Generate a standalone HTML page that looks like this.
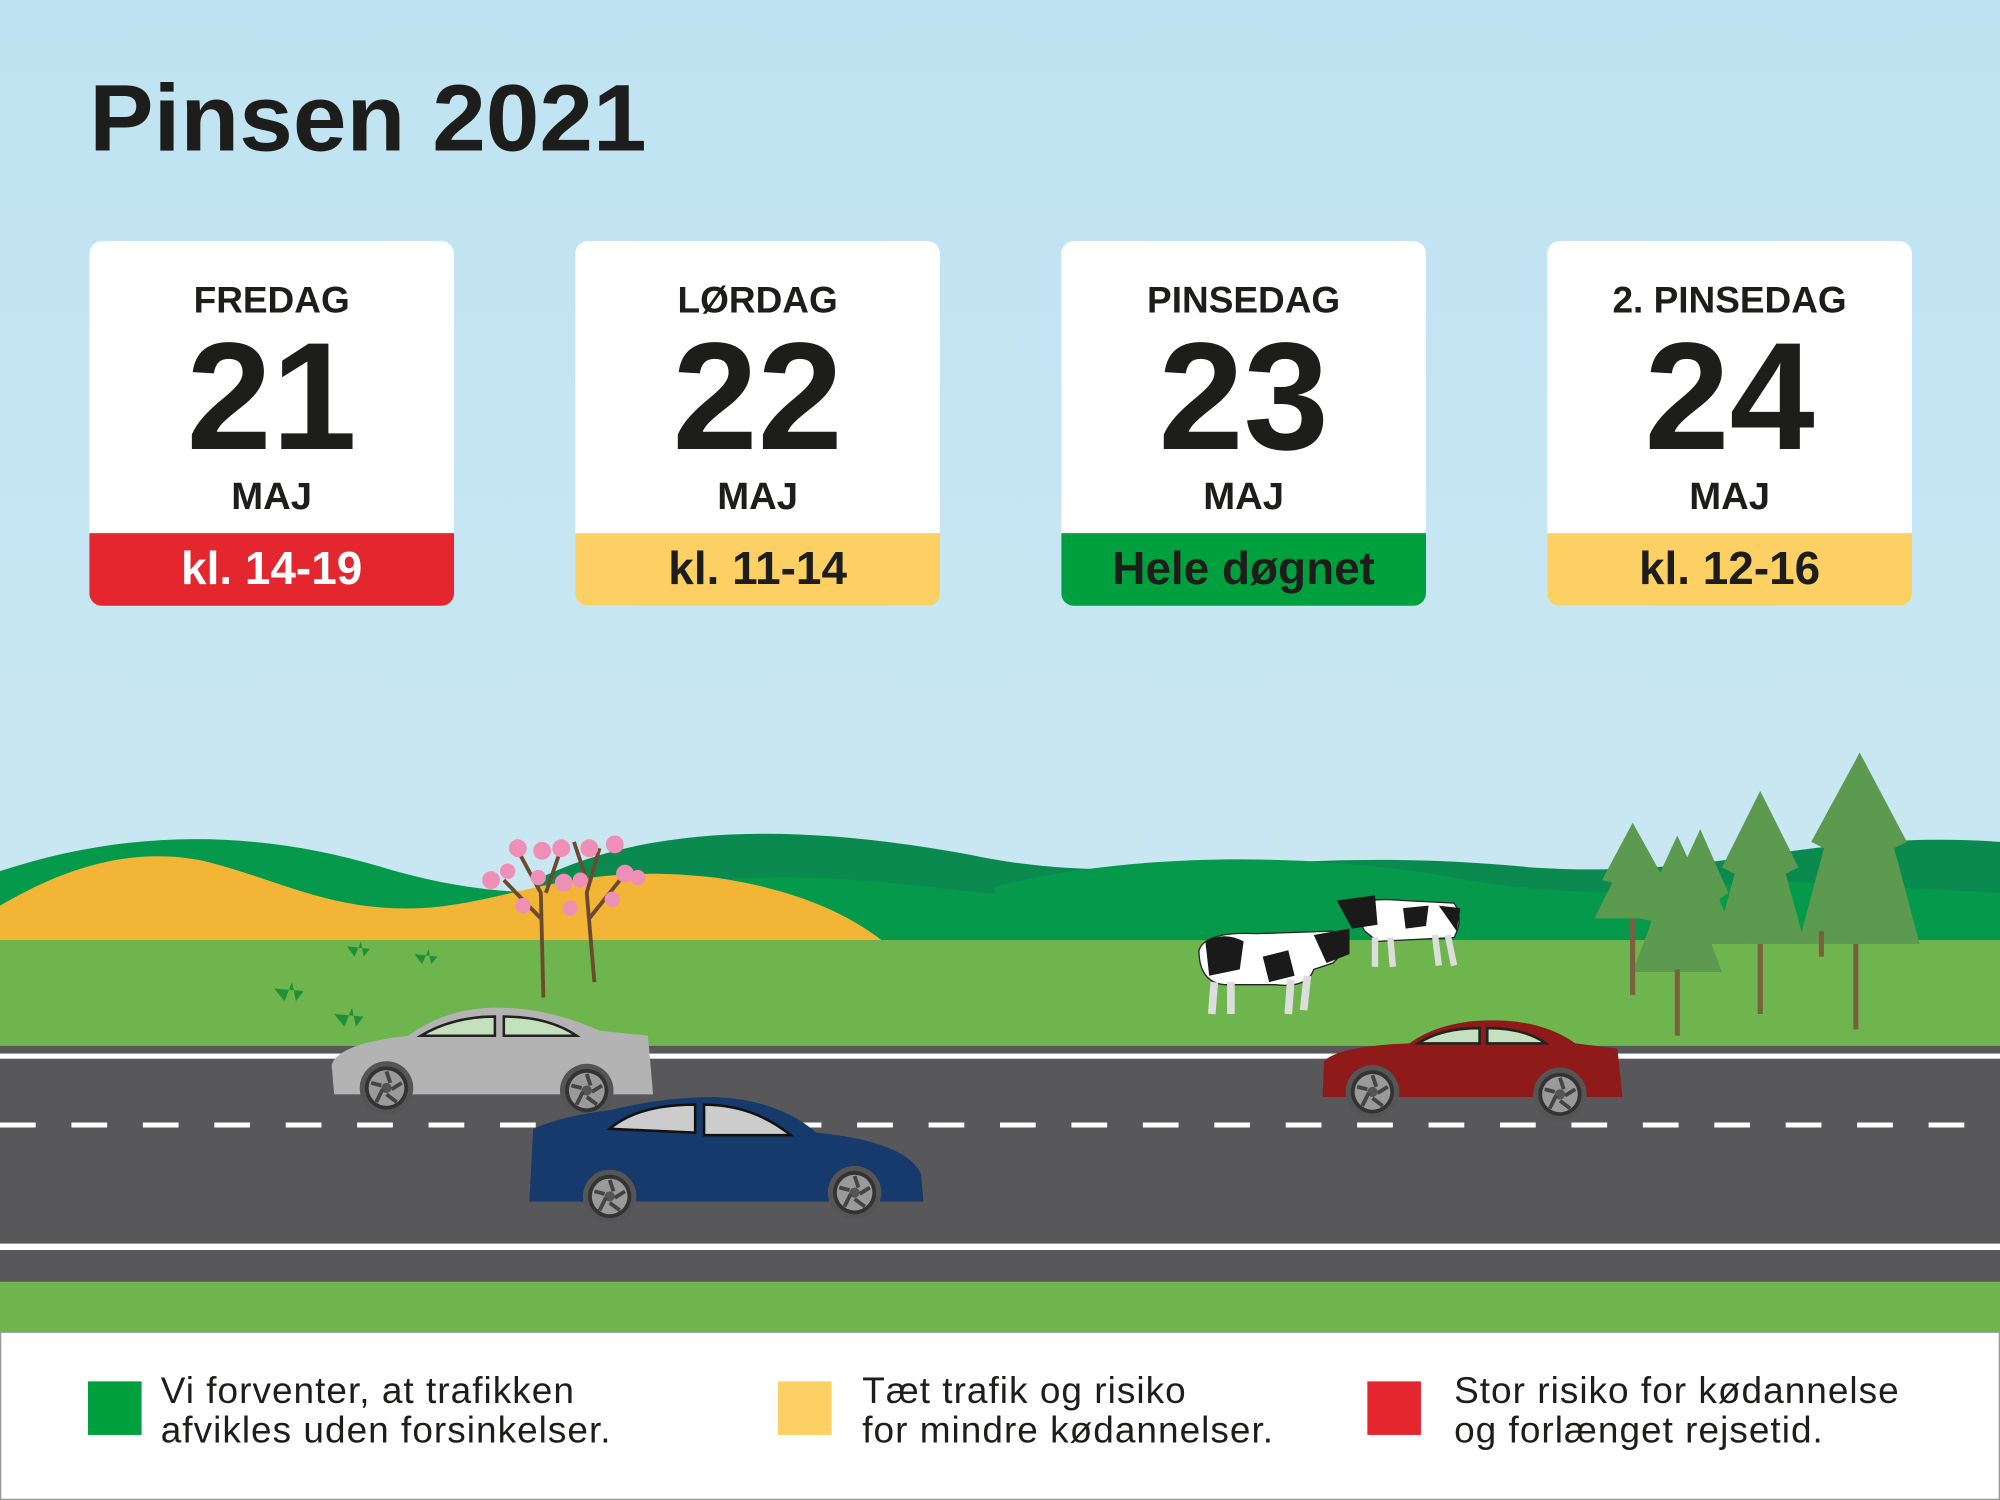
<!DOCTYPE html>
<html><head><meta charset="utf-8"><style>
html,body{margin:0;padding:0;width:2000px;height:1500px;overflow:hidden;background:#c3e4f2}
svg{display:block}
text{font-family:"Liberation Sans","DejaVu Sans",sans-serif}
</style></head><body>
<svg width="2000" height="1500" viewBox="0 0 1568 1176" xmlns="http://www.w3.org/2000/svg">
<defs>
<linearGradient id="sky" x1="0" y1="0" x2="0" y2="1"><stop offset="0" stop-color="#bfe3f2"/><stop offset="1" stop-color="#d0eaf1"/></linearGradient>
<clipPath id="c1"><rect x="70" y="189" width="286" height="286" rx="10"/></clipPath>
<clipPath id="c2"><rect x="451" y="189" width="286" height="286" rx="10"/></clipPath>
<clipPath id="c3"><rect x="832" y="189" width="286" height="286" rx="10"/></clipPath>
<clipPath id="c4"><rect x="1213" y="189" width="286" height="286" rx="10"/></clipPath>
<g id="wheel"><circle r="21" fill="#555"/><circle r="17" fill="#333"/><circle r="14" fill="#9a9a9a"/><circle r="4" fill="#555"/><path d="M0-13L3-4M12-4L4 1M8 11L0 5M-8 11L-3 1M-12-4L-4-2" stroke="#444" stroke-width="3"/></g>
</defs>
<rect width="1568" height="1176" fill="url(#sky)"/>
<text x="70" y="118" font-size="74" font-weight="bold" fill="#1d1d1b" textLength="437" lengthAdjust="spacingAndGlyphs">Pinsen 2021</text>

<g clip-path="url(#c1)"><rect x="70" y="189" width="286" height="286" fill="#fff"/><rect x="70" y="418" width="286" height="57" fill="#e4262f"/></g>
<g clip-path="url(#c2)"><rect x="451" y="189" width="286" height="286" fill="#fff"/><rect x="451" y="418" width="286" height="57" fill="#fcd062"/></g>
<g clip-path="url(#c3)"><rect x="832" y="189" width="286" height="286" fill="#fff"/><rect x="832" y="418" width="286" height="57" fill="#00a03e"/></g>
<g clip-path="url(#c4)"><rect x="1213" y="189" width="286" height="286" fill="#fff"/><rect x="1213" y="418" width="286" height="57" fill="#fcd062"/></g>
<g text-anchor="middle" fill="#1d1d1b" font-weight="bold">
<text x="213" y="245" font-size="29">FREDAG</text><text x="594" y="245" font-size="29">LØRDAG</text><text x="975" y="245" font-size="29">PINSEDAG</text><text x="1356" y="245" font-size="29">2. PINSEDAG</text>
<text x="213" y="352" font-size="120">21</text><text x="594" y="352" font-size="120">22</text><text x="975" y="352" font-size="120">23</text><text x="1356" y="352" font-size="120">24</text>
<text x="213" y="399" font-size="30">MAJ</text><text x="594" y="399" font-size="30">MAJ</text><text x="975" y="399" font-size="30">MAJ</text><text x="1356" y="399" font-size="30">MAJ</text>
<text x="213" y="458" font-size="36" fill="#fff">kl. 14-19</text><text x="594" y="458" font-size="36">kl. 11-14</text><text x="975" y="458" font-size="36">Hele døgnet</text><text x="1356" y="458" font-size="36">kl. 12-16</text>
</g>

<!-- hills -->
<path d="M420 690 C520 640 650 650 760 670 C900 700 1000 660 1200 680 C1350 690 1420 650 1568 660 L1568 740 L420 740Z" fill="#0b8a4f"/>
<path d="M0 683 C100 650 200 650 300 680 C400 710 470 700 560 690 C700 680 760 710 860 700 L900 740 L0 740Z" fill="#04994b"/>
<path d="M780 695 C900 665 1050 670 1150 690 C1250 705 1300 700 1380 690 L1568 700 L1568 740 L780 740Z" fill="#04994b"/>
<path d="M0 710 C60 675 110 665 160 675 C220 690 260 715 330 712 C400 708 450 675 560 688 C630 698 670 720 695 740 L0 740Z" fill="#f2b535"/>
<rect x="0" y="737" width="1568" height="85" fill="#6db54c"/>
<!-- road -->
<rect x="0" y="820" width="1568" height="185" fill="#58575a"/>
<rect x="0" y="826" width="1568" height="4" fill="#fff"/>
<line x1="0" y1="882" x2="1568" y2="882" stroke="#fff" stroke-width="4" stroke-dasharray="28 28"/>
<rect x="0" y="975" width="1568" height="5" fill="#fff"/>
<rect x="0" y="1005" width="1568" height="40" fill="#6db54c"/>
<!-- legend -->
<rect x="0.5" y="1044.5" width="1567" height="131" fill="#fff" stroke="#999"/>
<rect x="69" y="1083" width="42" height="42" fill="#00a03e"/>
<rect x="610" y="1083" width="42" height="42" fill="#fcd062"/>
<rect x="1072" y="1083" width="42" height="42" fill="#e4262f"/>
<g font-size="29" fill="#1d1d1b" letter-spacing="0.8">
<text x="126" y="1100">Vi forventer, at trafikken</text><text x="126" y="1131">afvikles uden forsinkelser.</text>
<text x="676" y="1100">Tæt trafik og risiko</text><text x="676" y="1131">for mindre kødannelser.</text>
<text x="1140" y="1100">Stor risiko for kødannelse</text><text x="1140" y="1131">og forlænget rejsetid.</text>
</g>

<!-- blossom tree -->
<g stroke="#6b4a2e" stroke-width="3" fill="none"><path d="M426 782 L424 700 L405 665M424 720 L395 690M428 700 L440 665"/><path d="M466 770 L460 700 L470 665M462 720 L490 685M460 690 L450 660"/></g>
<g fill="#ef8fb8"><circle cx="406" cy="665" r="7"/><circle cx="425" cy="667" r="7"/><circle cx="440" cy="665" r="7"/><circle cx="462" cy="665" r="7"/><circle cx="482" cy="662" r="7"/><circle cx="385" cy="690" r="7"/><circle cx="398" cy="683" r="6"/><circle cx="422" cy="688" r="6"/><circle cx="442" cy="692" r="7"/><circle cx="490" cy="685" r="7"/><circle cx="500" cy="688" r="6"/><circle cx="410" cy="710" r="6"/><circle cx="447" cy="712" r="6"/><circle cx="480" cy="705" r="6"/><circle cx="455" cy="690" r="6"/></g>
<g fill="#1f8f3a"><path d="M215 775 l8 10 l6-15 l3 15 l6-8z"/><path d="M262 795 l8 10 l6-15 l3 15 l6-8z"/><path d="M272 742 l6 8 l5-12 l2 12 l5-6z"/><path d="M325 748 l6 8 l5-12 l2 12 l5-6z"/></g>

<!-- cows -->
<g><path d="M940 745 Q945 730 985 732 L1045 730 L1055 745 L1045 755 L1030 760 Q1025 775 1000 772 L960 772 Q940 770 940 745Z" fill="#fff" stroke="#222" stroke-width="1"/>
<path d="M945 738 Q960 730 975 738 L972 760 L948 765Z M990 750 L1010 745 L1015 765 L995 770Z M1030 733 L1058 728 L1058 748 L1040 755Z" fill="#1a1a1a"/>
<g stroke="#ddd" stroke-width="6"><line x1="952" y1="770" x2="950" y2="795"/><line x1="965" y1="770" x2="965" y2="795"/><line x1="1012" y1="768" x2="1010" y2="795"/><line x1="1025" y1="765" x2="1022" y2="792"/></g></g>
<g><path d="M1060 712 Q1070 703 1100 706 L1140 708 Q1148 720 1140 735 L1080 738 L1070 730Z" fill="#fff" stroke="#222"/>
<path d="M1048 706 L1078 702 L1080 725 L1060 728Z M1100 712 L1120 710 L1118 726 L1102 728Z M1128 710 L1145 712 L1142 730 Z" fill="#1a1a1a"/>
<g stroke="#ddd" stroke-width="5"><line x1="1078" y1="735" x2="1078" y2="758"/><line x1="1090" y1="735" x2="1092" y2="758"/><line x1="1125" y1="733" x2="1128" y2="757"/><line x1="1135" y1="733" x2="1140" y2="757"/></g></g>

<!-- trees -->
<g fill="#5b9a4f">
<path d="M1280 645 L1305 690 L1298 692 L1312 720 L1250 720 L1264 692 L1256 690Z"/>
<path d="M1333 650 L1355 700 L1348 705 L1362 740 L1305 740 L1318 705 L1310 700Z"/>
<path d="M1380 620 L1410 680 L1400 685 L1415 740 L1345 740 L1360 685 L1350 680Z"/>
<path d="M1315 655 L1345 720 L1335 722 L1350 762 L1280 762 L1295 722 L1285 720Z"/>
<path d="M1458 590 L1495 660 L1485 665 L1505 740 L1410 740 L1430 665 L1420 660Z"/>
</g>
<g stroke="#7a6040" stroke-width="4"><line x1="1280" y1="720" x2="1280" y2="780"/><line x1="1380" y1="740" x2="1380" y2="795"/><line x1="1315" y1="760" x2="1315" y2="812"/><line x1="1455" y1="740" x2="1455" y2="807"/><line x1="1428" y1="730" x2="1428" y2="750"/></g>

<!-- gray car -->
<g><path d="M262 858 L260 835 Q265 818 320 812 Q350 790 390 790 Q430 790 470 808 L508 812 L512 858Z" fill="#b3b3b3"/>
<path d="M330 812 Q355 797 388 797 L388 812Z M395 797 Q430 797 452 812 L395 812Z" fill="#c4e0bd" stroke="#222" stroke-width="2"/>
<use href="#wheel" x="303" y="853"/><use href="#wheel" x="460" y="855"/></g>
<!-- red car -->
<g><path d="M1037 860 L1038 832 Q1050 820 1105 818 Q1130 800 1170 800 Q1210 800 1235 818 L1268 822 L1272 860Z" fill="#8e1a1a"/>
<path d="M1112 818 Q1130 806 1160 806 L1160 818Z M1166 806 Q1195 806 1212 818 L1166 818Z" fill="#c4e0bd" stroke="#222" stroke-width="2"/>
<use href="#wheel" x="1076" y="856"/><use href="#wheel" x="1223" y="858"/></g>
<!-- blue car -->
<g><path d="M415 942 L418 885 Q440 875 480 870 Q520 860 560 860 Q610 862 640 888 Q710 895 722 920 L724 942Z" fill="#163a6b"/>
<path d="M478 885 Q500 866 545 866 L545 888Z M552 866 Q590 866 620 890 L552 890Z" fill="#ccc" stroke="#111" stroke-width="2"/>
<use href="#wheel" x="478" y="938"/><use href="#wheel" x="670" y="935"/></g>
</svg>
</body></html>
